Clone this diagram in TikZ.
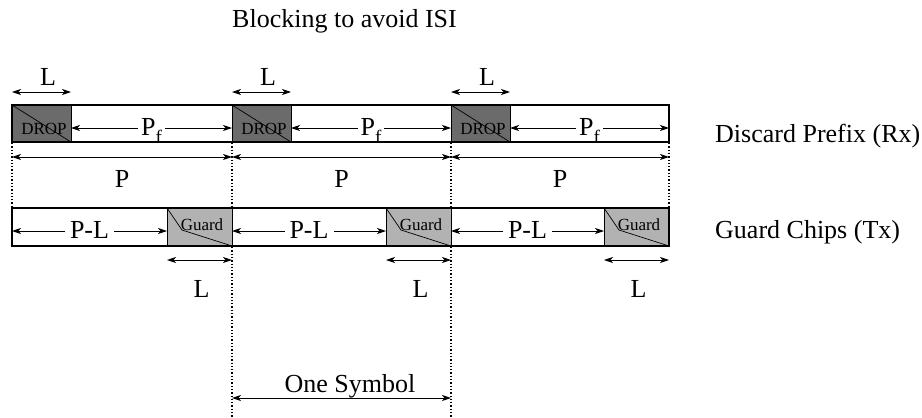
\documentclass[tikz,border=0pt]{standalone}
\usepackage{fontspec}
\setmainfont{Liberation Serif}
\usetikzlibrary{arrows.meta}
\begin{document}
\begin{tikzpicture}[x=1pt,y=-1pt,
  lbl/.style={font=\fontsize{26}{30}\selectfont, anchor=base, inner sep=0pt},
  boxlbl/.style={font=\fontsize{17}{20}\selectfont, inner sep=0pt},
  dimarrow/.style={line width=0.9pt, {Stealth[length=9pt,width=6pt,inset=2.5pt]}-{Stealth[length=9pt,width=6pt,inset=2.5pt]}},
  barline/.style={line width=1.6pt},
  guide/.style={line width=1.3pt, dotted},
  dropfill/.style={fill=black!58},
  guardfill/.style={fill=black!30},
  thin/.style={line width=0.7pt}]
\useasboundingbox (0,0) rectangle (922,418);

\node[lbl] (title) at (344.5,27) {Blocking to avoid ISI};

\foreach \i/\a/\b/\g in {1/12/232/167, 2/232/451/386, 3/451/669/604}{
  \pgfmathsetmacro\d{\a+59}
  \pgfmathsetmacro\pm{(\d+\b)/2}
  \pgfmathsetmacro\cm{(\a+\b)/2}
  \pgfmathsetmacro\gm{(\a+\g)/2}
  \pgfmathsetmacro\lm{(\g+\b)/2}
  % named points
  \coordinate (ta\i) at (\a,105); \coordinate (td\i) at (\d,142);
  \coordinate (tb\i) at (\b,142);
  % drop box
  \fill[dropfill] (ta\i) rectangle (td\i);
  \draw[thin] (ta\i) -- (td\i);
  \draw[thin] (\d,105) -- (td\i);
  \node[boxlbl] (drop\i) at (\a+32,129) {DROP};
  % L above
  \coordinate (la\i) at (\a,92); \coordinate (lb\i) at (\d,92);
  \draw[dimarrow] (la\i) -- (lb\i);
  \node[lbl] (ltop\i) at (\a+36,85) {L};
  % Pf
  \coordinate (pfa\i) at (\d,128); \coordinate (pfb\i) at (\b,128);
  \draw[dimarrow] (pfa\i) -- (pfb\i);
  \node[lbl, fill=white, inner xsep=3pt] (pf\i) at (\pm,135) {P\raisebox{-8pt}{\fontsize{19}{20}\selectfont f}};
  % P
  \coordinate (pa\i) at (\a,157); \coordinate (pb\i) at (\b,157);
  \draw[dimarrow] (pa\i) -- (pb\i);
  \node[lbl] (p\i) at (\cm,187) {P};
  % guard box
  \coordinate (ga\i) at (\g,208); \coordinate (gb\i) at (\b,246);
  \fill[guardfill] (ga\i) rectangle (gb\i);
  \draw[thin] (ga\i) -- (\g+15,230) -- (gb\i);
  \draw[thin] (ga\i) -- (\g,246);
  \node[boxlbl] (guard\i) at (\g+35,225) {Guard};
  % P-L
  \coordinate (pla\i) at (\a,231); \coordinate (plb\i) at (\g,231);
  \draw[dimarrow] (pla\i) -- (plb\i);
  \node[lbl, fill=white, inner xsep=5pt] (pl\i) at (\gm,238) {P-L};
  % L below
  \coordinate (lba\i) at (\g,260); \coordinate (lbb\i) at (\b,260);
  \draw[dimarrow] (lba\i) -- (lbb\i);
  \node[lbl] (lbot\i) at (\lm+2,297) {L};
}

% bars
\draw[barline] (12,105) rectangle (669,142);
\draw[barline] (12,208) rectangle (669,246);
\draw[line width=1pt] (232,105) -- (232,142) (451,105) -- (451,142);
\draw[line width=1pt] (232,208) -- (232,246) (451,208) -- (451,246);

% dotted guides
\coordinate (g0a) at (12,143);  \coordinate (g0b) at (12,207);
\coordinate (g1a) at (232,143); \coordinate (g1b) at (232,418);
\coordinate (g2a) at (451,143); \coordinate (g2b) at (451,418);
\coordinate (g3a) at (669,143); \coordinate (g3b) at (669,207);
\draw[guide] (g0a) -- (g0b);
\draw[guide] (g1a) -- (232,207) (232,247) -- (g1b);
\draw[guide] (g2a) -- (451,207) (451,247) -- (g2b);
\draw[guide] (g3a) -- (g3b);

% one symbol
\coordinate (osa) at (232,398); \coordinate (osb) at (451,398);
\draw[dimarrow] (osa) -- (osb);
\node[lbl] (onesym) at (350,392) {One Symbol};

% right labels
\node[lbl, anchor=base west] (rx) at (715,142) {Discard Prefix (Rx)};
\node[lbl, anchor=base west] (tx) at (715,238) {Guard Chips (Tx)};
\end{tikzpicture}
\end{document}
